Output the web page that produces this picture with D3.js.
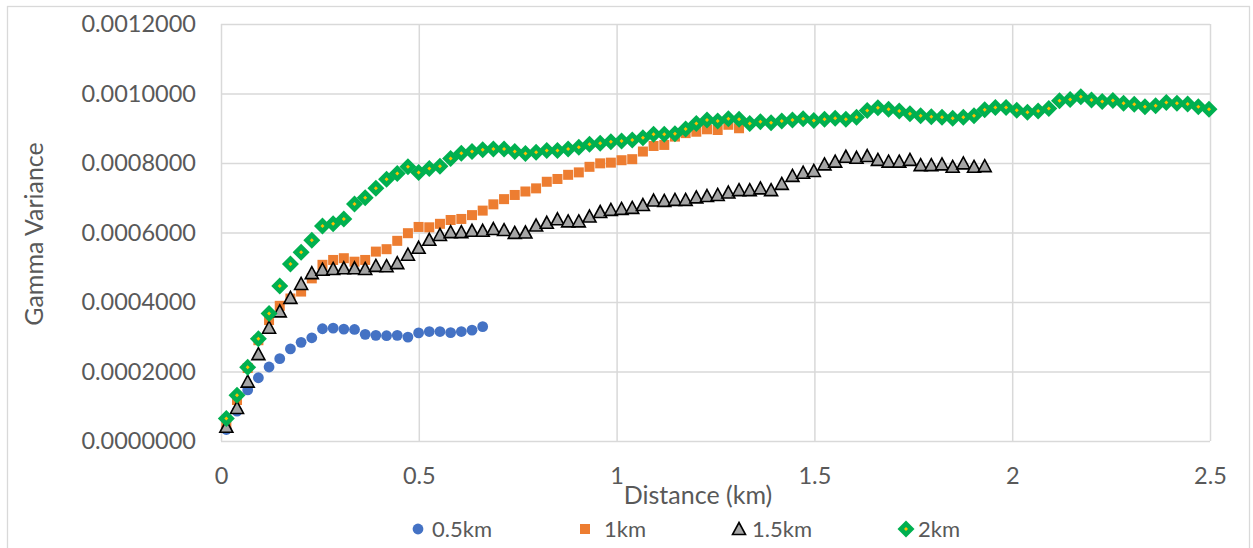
<!DOCTYPE html>
<html>
<head>
<meta charset="utf-8">
<script src="https://cdn.jsdelivr.net/npm/d3@7"></script>
<style>
  body { margin: 0; background: #fff; }
  text { font-family: Lato, "Open Sans", sans-serif; fill: #595959; }
</style>
</head>
<body>
<script>
// lag distances (km), shared by all series
var lagKm = [0.0135, 0.0405, 0.0675, 0.0945, 0.1215, 0.1485, 0.1755, 0.2025, 0.2295, 0.2565,
  0.2835, 0.3105, 0.3375, 0.3645, 0.3915, 0.4185, 0.4455, 0.4725, 0.4995, 0.5265,
  0.5535, 0.5805, 0.6075, 0.6345, 0.6615, 0.6885, 0.7155, 0.7425, 0.7695, 0.7965,
  0.8235, 0.8505, 0.8775, 0.9045, 0.9315, 0.9585, 0.9855, 1.0125, 1.0395, 1.0665,
  1.0935, 1.1205, 1.1475, 1.1745, 1.2015, 1.2285, 1.2555, 1.2825, 1.3095, 1.3365,
  1.3635, 1.3905, 1.4175, 1.4445, 1.4715, 1.4985, 1.5255, 1.5525, 1.5795, 1.6065,
  1.6335, 1.6605, 1.6875, 1.7145, 1.7415, 1.7685, 1.7955, 1.8225, 1.8495, 1.8765,
  1.9035, 1.9305, 1.9575, 1.9845, 2.0115, 2.0385, 2.0655, 2.0925, 2.1195, 2.1465,
  2.1735, 2.2005, 2.2275, 2.2545, 2.2815, 2.3085, 2.3355, 2.3625, 2.3895, 2.4165,
  2.4435, 2.4705, 2.4975];

var gamma05 = [0.000033, 0.000086, 0.000147, 0.000182, 0.000213, 0.000237, 0.000265, 0.000284, 0.000297, 0.000323,
  0.000325, 0.000322, 0.000321, 0.000307, 0.000304, 0.000303, 0.000304, 0.000299, 0.000311, 0.000315,
  0.000315, 0.000312, 0.000315, 0.000319, 0.000329];

var gamma1 = [0.00005, 0.000118, 0.00021, 0.00029, 0.000348, 0.000389, 0.00041, 0.00043, 0.000468, 0.000507,
  0.000521, 0.000526, 0.000516, 0.000521, 0.000545, 0.000552, 0.000576, 0.000598, 0.000616, 0.000615,
  0.000625, 0.000636, 0.000639, 0.00065, 0.000663, 0.000681, 0.000696, 0.000708, 0.000718, 0.000727,
  0.000746, 0.000754, 0.000766, 0.000773, 0.000789, 0.000799, 0.000801, 0.000808, 0.000811, 0.000833,
  0.000849, 0.000852, 0.000876, 0.000886, 0.00089, 0.000897, 0.000895, 0.00091, 0.0009];

var gamma15 = [0.000041, 0.000095, 0.000171, 0.00025, 0.000326, 0.000373, 0.000412, 0.000452, 0.000483, 0.000493,
  0.000495, 0.000497, 0.000497, 0.000495, 0.000504, 0.000503, 0.000512, 0.000536, 0.000556, 0.000579,
  0.000593, 0.000601, 0.000601, 0.000605, 0.000605, 0.00061, 0.000607, 0.000599, 0.0006, 0.00062,
  0.000628, 0.000638, 0.000632, 0.000632, 0.000646, 0.000659, 0.000665, 0.000668, 0.000671, 0.000679,
  0.000692, 0.000691, 0.000694, 0.000694, 0.000701, 0.000705, 0.000708, 0.000715, 0.000722, 0.000722,
  0.000727, 0.000722, 0.00074, 0.000763, 0.000772, 0.000777, 0.000796, 0.000804, 0.000818, 0.000815,
  0.00082, 0.000809, 0.000804, 0.000804, 0.000809, 0.000794, 0.000794, 0.000796, 0.000789, 0.000799,
  0.000789, 0.000791];

var gamma2 = [0.000065, 0.000132, 0.000212, 0.000294, 0.000367, 0.000446, 0.000509, 0.000543, 0.000578, 0.000619,
  0.000625, 0.000639, 0.000682, 0.0007, 0.000727, 0.000753, 0.00077, 0.000789, 0.000773, 0.000784,
  0.000791, 0.000813, 0.000828, 0.000833, 0.000838, 0.00084, 0.00084, 0.000833, 0.000827, 0.000831,
  0.000836, 0.000836, 0.00084, 0.000845, 0.000854, 0.000857, 0.000861, 0.000863, 0.000866, 0.000873,
  0.000883, 0.000883, 0.000884, 0.000898, 0.000914, 0.000924, 0.000921, 0.000927, 0.000926, 0.000914,
  0.000919, 0.000916, 0.000921, 0.000924, 0.000927, 0.000922, 0.000926, 0.000929, 0.000926, 0.000932,
  0.000951, 0.000959, 0.000955, 0.00095, 0.000942, 0.000936, 0.000933, 0.000932, 0.000929, 0.000932,
  0.000936, 0.000953, 0.00096, 0.00096, 0.000952, 0.000946, 0.00095, 0.000957, 0.000979, 0.000983,
  0.000991, 0.000981, 0.000977, 0.00098, 0.000972, 0.000969, 0.000962, 0.000965, 0.000974, 0.000972,
  0.00097, 0.000962, 0.000955];

var seriesNames = ["0.5km", "1km", "1.5km", "2km"];
var xTicks = [0, 0.5, 1, 1.5, 2, 2.5];
var xTickLabels = ["0", "0.5", "1", "1.5", "2", "2.5"];
var yTicks = [0, 0.0002, 0.0004, 0.0006, 0.0008, 0.001, 0.0012];

var width = 1253,
    height = 548;

var x = d3.scaleLinear().domain([0, 2.5]).range([221, 1210]);
var y = d3.scaleLinear().domain([0, 0.0012]).range([441, 24]);

var svg = d3.select("body").append("svg")
    .attr("width", width)
    .attr("height", height);

// chart border
svg.append("rect")
    .attr("x", 7.5).attr("y", 6.5)
    .attr("width", 1242).attr("height", 560)
    .style("fill", "none").style("stroke", "#d9d9d9").style("stroke-width", 1.3);

// y axis + horizontal grid
var gy = svg.append("g")
    .attr("transform", "translate(" + x(0) + ",0)")
    .call(d3.axisLeft(y).tickValues(yTicks).tickFormat(d3.format(".7f"))
      .tickSize(-(x(2.5) - x(0))).tickPadding(25));
gy.select(".domain").remove();
gy.selectAll("line").style("stroke", "#d9d9d9").style("stroke-width", 1.5);
gy.selectAll("text").style("font-size", "23.5px").style("fill", "#595959");

// x axis + vertical grid
var gx = svg.append("g")
    .attr("transform", "translate(0," + y(0) + ")")
    .call(d3.axisBottom(x).tickValues(xTicks).tickFormat(function(d, i) { return xTickLabels[i]; })
      .tickSize(-(y(0) - y(0.0012))).tickPadding(26));
gx.select(".domain").remove();
gx.selectAll("line").style("stroke", "#d9d9d9").style("stroke-width", 1.5);
gx.selectAll("text").style("font-size", "23.5px").style("fill", "#595959");

// axis titles
svg.append("text")
    .attr("x", 698).attr("y", 504)
    .attr("text-anchor", "middle")
    .style("font-size", "25px")
    .text("Distance (km)");

svg.append("text")
    .attr("transform", "translate(34,234) rotate(-90)")
    .attr("text-anchor", "middle")
    .attr("dy", "0.35em")
    .style("font-size", "25px")
    .text("Gamma Variance");

// marker drawers
function circle(g) {
  g.append("circle").attr("r", 5.4).style("fill", "#4472c4");
}
function square(g) {
  g.append("rect").attr("x", -5).attr("y", -5).attr("width", 10).attr("height", 10)
    .style("fill", "#ed7d31");
}
function triangle(g) {
  g.append("path").attr("d", "M0,-6.5L6.5,5.5L-6.5,5.5Z")
    .style("fill", "#a5a5a5").style("stroke", "#000").style("stroke-width", 1.6)
    .style("stroke-linejoin", "miter");
}
function diamond(g) {
  g.append("path").attr("d", "M0,-8.5L8.5,0L0,8.5L-8.5,0Z").style("fill", "#00b050");
  g.append("path").attr("d", "M0,-2L2,0L0,2L-2,0Z").style("fill", "#ffc000");
}

var series = [
  {name: seriesNames[0], values: gamma05, draw: circle},
  {name: seriesNames[1], values: gamma1, draw: square},
  {name: seriesNames[2], values: gamma15, draw: triangle},
  {name: seriesNames[3], values: gamma2, draw: diamond}
];

series.forEach(function(s) {
  var pts = s.values.map(function(v, i) { return {x: lagKm[i], y: v}; });
  svg.append("g").selectAll("g")
    .data(pts)
    .enter().append("g")
    .attr("transform", function(d) { return "translate(" + x(d.x) + "," + y(d.y) + ")"; })
    .each(function() { s.draw(d3.select(this)); });
});

// legend
var legendX = [418, 585, 739, 906];
var legendTextX = [14, 19, 13, 12];
var legend = svg.append("g").selectAll("g")
    .data(series)
    .enter().append("g")
    .attr("transform", function(d, i) { return "translate(" + legendX[i] + ",529)"; });
legend.each(function(d) { d.draw(d3.select(this)); });
legend.append("text")
    .attr("x", function(d, i) { return legendTextX[i]; })
    .attr("dy", "0.35em")
    .style("font-size", "22px")
    .text(function(d) { return d.name; });
</script>
</body>
</html>
